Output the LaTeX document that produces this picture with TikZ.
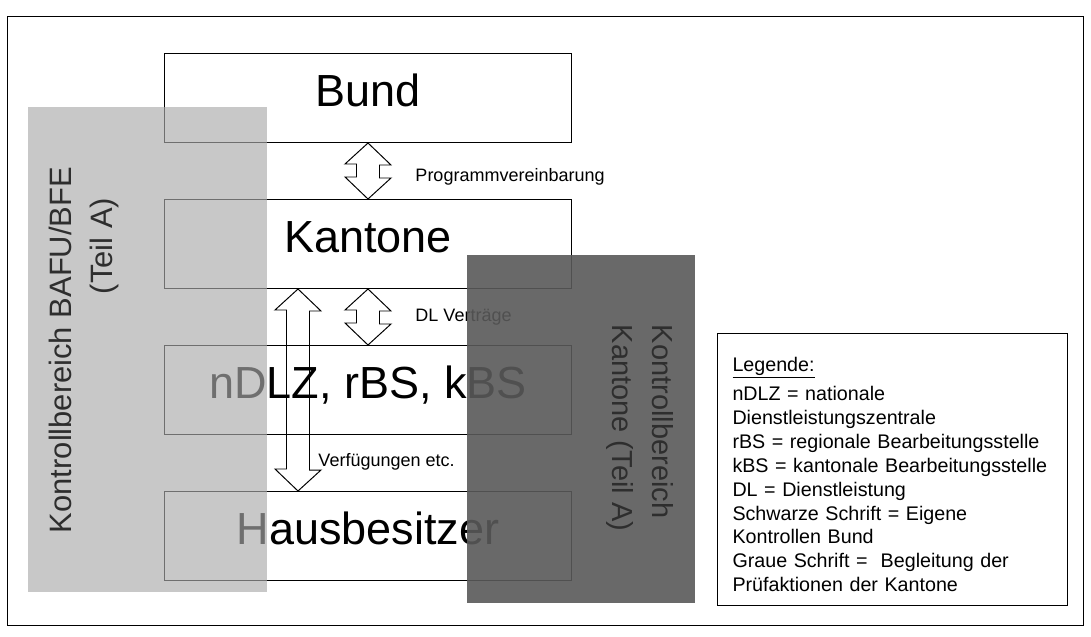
\documentclass[tikz,border=0pt]{standalone}
\usepackage{fontspec}
\setmainfont{Liberation Sans}
\usepackage{tikz}
\usetikzlibrary{calc}
\usepackage{xcolor}
\definecolor{bafuc}{HTML}{ABABAB}
\definecolor{kantc}{HTML}{595959}
\definecolor{bandtxt}{HTML}{2E2E2E}

\begin{document}
\begin{tikzpicture}[x=0.025cm, y=-0.025cm, line width=0.7pt,
  ebene/.style={draw, minimum width=10.15cm, minimum height=2.225cm, inner sep=0pt,
    font=\fontsize{32}{38}\selectfont, text height=23pt, text depth=11.6pt},
  dblarrow/.style={draw, line join=miter},
  relabel/.style={anchor=west, inner sep=0pt, font=\fontsize{12.8}{15}\selectfont},
  bandtext/.style={inner sep=0pt, text=bandtxt}]
  \useasboundingbox (0,0) rectangle (1091,637);
  % outer frame
  \draw (7,16) rectangle (1083,625);
  % levels
  \node[ebene] (bund) at (368,98) {Bund};
  \node[ebene] (kantone) at (368,244) {Kantone};
  \node[ebene] (ndlz) at (368,390) {nDLZ, rBS, kBS};
  \node[ebene] (haus) at (368,536) {Hausbesitzer};
  % double arrows between the levels
  \draw[dblarrow] (bund.south) -- ++(23,22) -- ++(-11.5,0) -- ++(0,13) -- ++(11.5,0) -- (kantone.north)
        -- ++(-23,-22) -- ++(11.5,0) -- ++(0,-13) -- ++(-11.5,0) -- cycle;
  \draw[dblarrow] (kantone.south) -- ++(23,22) -- ++(-11.5,0) -- ++(0,13) -- ++(11.5,0) -- (ndlz.north)
        -- ++(-23,-22) -- ++(11.5,0) -- ++(0,-13) -- ++(-11.5,0) -- cycle;
  \draw[dblarrow] ($(kantone.south)+(-70,0)$) -- ++(23,22) -- ++(-11.5,0) -- ++(0,159) -- ++(11.5,0) -- ($(haus.north)+(-70,0)$)
        -- ++(-23,-22) -- ++(11.5,0) -- ++(0,-159) -- ++(-11.5,0) -- cycle;
  \node[relabel] (progv) at (415,177) {Programmvereinbarung};
  \node[relabel] (dlv) at (415,317) {DL Verträge};
  \node[relabel] (verf) at (318,462) {Verfügungen etc.};
  % legend
  \node[draw, anchor=north west, minimum width=8.75cm, minimum height=6.8cm, text width=8cm,
        inner xsep=0.375cm, align=left, font=\fontsize{14}{17}\selectfont] (legende) at (717,333)
        {\rule{0pt}{17pt}\underline{Legende:}\\[4pt]
         nDLZ = nationale\\
         Dienstleistungszentrale\\
         rBS = regionale Bearbeitungsstelle\\
         kBS = kantonale Bearbeitungsstelle\\
         DL = Dienstleistung\\
         Schwarze Schrift = Eigene\\
         Kontrollen Bund\\
         Graue Schrift = \ Begleitung der\\
         Prüfaktionen der Kantone};
  % control areas on top
  \fill[bafuc, fill opacity=0.65] (28,107) rectangle (267,592);
  \fill[kantc, fill opacity=0.9] (467,255) rectangle (695,603);
  \node[bandtext, rotate=90, align=right, font=\fontsize{22}{28.5}\selectfont] (bafutxt) at (84,350)
        {Kontrollbereich BAFU/BFE\\(Teil A)\hspace*{1em}};
  \node[bandtext, rotate=-90, align=left, font=\fontsize{20.6}{29}\selectfont] (kanttxt) at (640,428)
        {Kontrollbereich\\Kantone (Teil A)};
\end{tikzpicture}
\end{document}
